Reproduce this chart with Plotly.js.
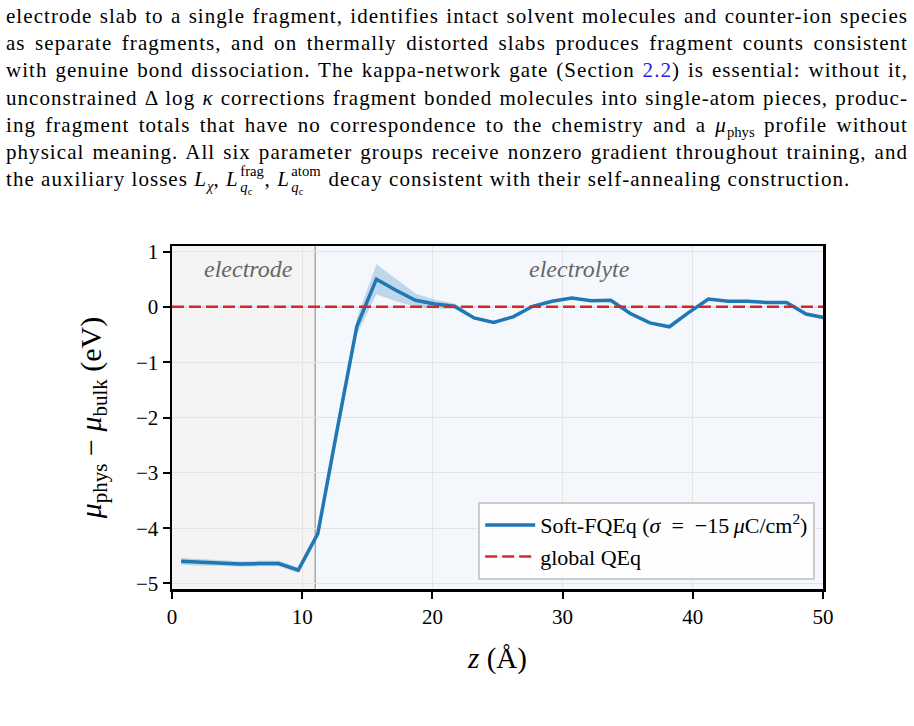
<!DOCTYPE html>
<html>
<head>
<meta charset="utf-8">
<script src="https://cdn.plot.ly/plotly-3.0.1.min.js"></script>
<style>
  html, body { margin: 0; padding: 0; background: #fff; }
  #wrap { position: relative; width: 914px; height: 726px; overflow: hidden; }
  #para { position: absolute; left: 6px; top: 3px; width: 902px; z-index: 2;
          font-family: "Liberation Serif", serif; font-size: 21px; letter-spacing: 1.05px; color: #000; }
  .ln { height: 27.2px; line-height: 27.2px; text-align: justify; text-align-last: justify; white-space: nowrap; }
  .ln.last { text-align-last: left; }
  .ref { color: #2020ff; }
  .sb { font-size: 0.7em; line-height: 1; position: relative; top: 0.35em; letter-spacing: 0; }
  .ss { display: inline-block; position: relative; width: 1.75em; height: 1em; font-size: 0.7em; line-height: 1; letter-spacing: 0; }
  .ss .up { position: absolute; left: 0.1em; top: -0.5em; }
  .ss .dn { position: absolute; left: 0.1em; top: 0.6em; }
  .ss .dn .sb { top: 0.25em; }
  .ss.w2 { width: 2.2em; }
  #chart { position: absolute; left: 0; top: 0; width: 914px; height: 726px; z-index: 1; }
</style>
</head>
<body>
<div id="wrap">
  <div id="para">
    <div class="ln">electrode slab to a single fragment, identifies intact solvent molecules and counter-ion species</div>
    <div class="ln">as separate fragments, and on thermally distorted slabs produces fragment counts consistent</div>
    <div class="ln">with genuine bond dissociation. The kappa-network gate (Section <span class="ref">2.2</span>) is essential: without it,</div>
    <div class="ln">unconstrained Δ log <i>κ</i> corrections fragment bonded molecules into single-atom pieces, produc-</div>
    <div class="ln">ing fragment totals that have no correspondence to the chemistry and a <i>μ</i><span class="sb">phys</span> profile without</div>
    <div class="ln">physical meaning. All six parameter groups receive nonzero gradient throughout training, and</div>
    <div class="ln last">the auxiliary losses <i>L</i><span class="sb"><i>χ</i></span>, <i>L</i><span class="ss"><span class="up">frag</span><span class="dn"><i>q</i><span class="sb">c</span></span></span>, <i>L</i><span class="ss w2"><span class="up">atom</span><span class="dn"><i>q</i><span class="sb">c</span></span></span> decay consistent with their self-annealing construction.</div>
  </div>
  <div id="chart"></div>
</div>
<script>
// ---- data ----
const zPos   = [0.7, 2.2, 3.7, 5.2, 6.7, 8.2, 9.7, 11.2, 12.7, 14.2, 15.7, 17.2, 18.7, 20.2, 21.7, 23.2, 24.7,
                26.2, 27.7, 29.2, 30.7, 32.2, 33.7, 35.2, 36.7, 38.2, 39.7, 41.2, 42.7, 44.2, 45.7, 47.2, 48.7, 50.2];
const muRel  = [-4.60, -4.62, -4.63, -4.65, -4.64, -4.64, -4.76, -4.10, -2.20, -0.35, 0.50, 0.30, 0.12, 0.05, 0.01,
                -0.20, -0.28, -0.18, 0.01, 0.10, 0.16, 0.11, 0.12, -0.12, -0.29, -0.36, -0.10, 0.14, 0.10, 0.10,
                0.08, 0.08, -0.13, -0.20];
const muStd  = [0.06, 0.06, 0.05, 0.05, 0.05, 0.05, 0.05, 0.04, 0.10, 0.15, 0.27, 0.20, 0.12, 0.08, 0.05,
                0.02, 0.02, 0.02, 0.02, 0.02, 0.02, 0.02, 0.02, 0.02, 0.02, 0.02, 0.02, 0.02, 0.02, 0.02,
                0.02, 0.02, 0.02, 0.02];
const qeqZ   = [0, 50];
const qeqMu  = [0, 0];
const electrodeEdge = 11;
const zLimits = [0, 50];
const muLimits = [-5.1, 1.1];
const xTickVals = [0, 10, 20, 30, 40, 50];
const yTickVals = [-5, -4, -3, -2, -1, 0, 1];
const yTickText = ["\u22125", "\u22124", "\u22123", "\u22122", "\u22121", "0", "1"];
const regionLabels = ["electrode", "electrolyte"];
const regionLabelZ = [5.85, 31.3];
const seriesNames = ["Soft-FQEq (<i>σ</i>\u2002=\u2002\u221215\u2009<i>μ</i>C/cm<sup>2</sup>)", "global QEq"];

const lower = muRel.map((v, i) => v - muStd[i]);
const upper = muRel.map((v, i) => v + muStd[i]);
const serif = "Liberation Serif, serif";

const traces = [
  { x: zPos, y: lower, mode: "lines", line: { width: 0, color: "rgba(31,119,180,0)" }, showlegend: false, hoverinfo: "skip" },
  { x: zPos, y: upper, mode: "lines", line: { width: 0, color: "rgba(31,119,180,0)" }, fill: "tonexty",
    fillcolor: "rgba(31,119,180,0.25)", showlegend: false, hoverinfo: "skip" },
  { x: zPos, y: muRel, mode: "lines", name: seriesNames[0], line: { color: "#1f77b4", width: 3.5 } },
  { x: qeqZ, y: qeqMu, mode: "lines", name: seriesNames[1], line: { color: "#d62728", width: 2.5, dash: "12px,5px" } }
];

const axisCommon = {
  showline: true, linecolor: "#000", linewidth: 2.5, mirror: true,
  ticks: "outside", ticklen: 7, tickwidth: 2, tickcolor: "#000",
  showgrid: true, gridcolor: "#e4e4e4", gridwidth: 1, zeroline: false,
  tickfont: { family: serif, size: 21, color: "#000" }
};

const layout = {
  width: 914, height: 726,
  margin: { l: 172, r: 91, t: 246, b: 137 },
  paper_bgcolor: "rgba(0,0,0,0)", plot_bgcolor: "#ffffff",
  showlegend: true,
  xaxis: Object.assign({}, axisCommon, {
    range: zLimits, tickvals: xTickVals,
    title: { text: "<i>z</i> (Å)", font: { family: serif, size: 29, color: "#000" }, standoff: 20 }
  }),
  yaxis: Object.assign({}, axisCommon, {
    range: muLimits, tickvals: yTickVals, ticktext: yTickText,
    title: { text: "<i>μ</i><sub>phys</sub> \u2212 <i>μ</i><sub>bulk</sub> (eV)", font: { family: serif, size: 30, color: "#000" }, standoff: 26 }
  }),
  legend: {
    x: 0.988, y: 0.026, xanchor: "right", yanchor: "bottom", traceorder: "normal",
    bgcolor: "rgba(255,255,255,0.85)", bordercolor: "#cccccc", borderwidth: 2,
    font: { family: serif, size: 22, color: "#000" }, itemwidth: 50, tracegroupgap: 0
  },
  shapes: [
    { type: "rect", xref: "x", yref: "paper", x0: zLimits[0], x1: electrodeEdge, y0: 0, y1: 1,
      fillcolor: "#f4f4f4", line: { width: 0 }, layer: "below" },
    { type: "rect", xref: "x", yref: "paper", x0: electrodeEdge, x1: zLimits[1], y0: 0, y1: 1,
      fillcolor: "#f4f7fc", line: { width: 0 }, layer: "below" },
    { type: "line", xref: "x", yref: "paper", x0: electrodeEdge, x1: electrodeEdge, y0: 0, y1: 1,
      line: { color: "#a8a8a8", width: 1.5 }, layer: "between" },
    { type: "line", xref: "paper", yref: "y", x0: 0, x1: 1, y0: 0, y1: 0,
      line: { color: "#9a9a9a", width: 1, dash: "dashdot" }, layer: "between" }
  ],
  annotations: regionLabels.map((t, i) => ({
    x: regionLabelZ[i], y: 0.68, xref: "x", yref: "y", text: "<i>" + t + "</i>", showarrow: false,
    font: { family: serif, size: 24, color: "#666666" }
  }))
};

Plotly.newPlot("chart", traces, layout, { displayModeBar: false, staticPlot: true });
</script>
</body>
</html>
